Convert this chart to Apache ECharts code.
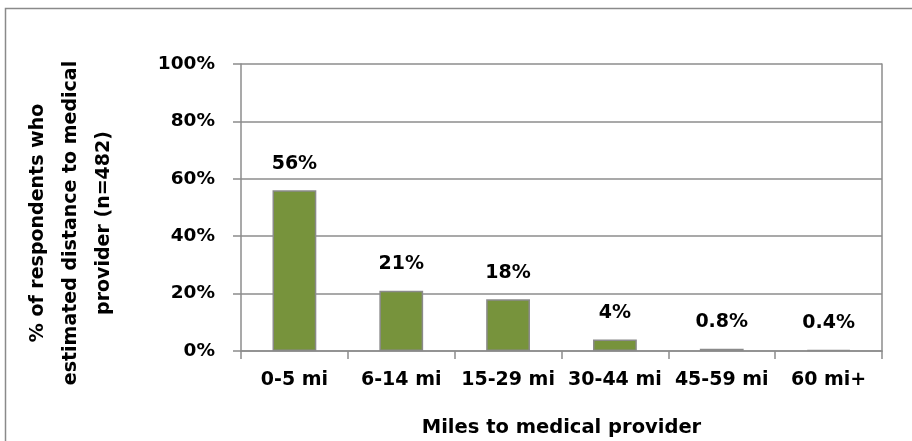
<!DOCTYPE html>
<html>
<head>
<meta charset="utf-8">
<script src="https://cdn.jsdelivr.net/npm/echarts@6/dist/echarts.min.js"></script>
<style>
  html, body { margin: 0; padding: 0; background: #fff; }
  #chart { width: 912px; height: 441px; }
</style>
</head>
<body>
<div id="chart"></div>
<script>
// Distance bands and share of respondents (%)
const categories = ['0-5 mi', '6-14 mi', '15-29 mi', '30-44 mi', '45-59 mi', '60 mi+'];
const shares = [56, 21, 18, 4, 0.8, 0.4];
const shareLabels = ['56%', '21%', '18%', '4%', '0.8%', '0.4%'];
const yTicks = [0, 20, 40, 60, 80, 100];
const yTitle = '% of respondents who\nestimated distance to medical\nprovider (n=482)';
const xTitle = 'Miles to medical provider';

const FONT = 'DejaVu Sans';
const GRID_GRAY = '#8c8c8c';

const chart = echarts.init(document.getElementById('chart'), null, { renderer: 'canvas' });

chart.setOption({
  animation: false,
  backgroundColor: '#ffffff',
  graphic: [
    {
      // chart frame (runs off the right and bottom edges)
      type: 'rect',
      shape: { x: 5.5, y: 8.5, width: 1000, height: 1000 },
      style: { fill: 'none', stroke: '#8a8a8a', lineWidth: 1.5 },
      silent: true
    },
    {
      type: 'text',
      x: 71,
      y: 223,
      rotation: Math.PI / 2,
      style: {
        text: yTitle,
        fontFamily: FONT,
        fontWeight: 'bold',
        fontSize: 19,
        lineHeight: 33,
        fill: '#000',
        align: 'center',
        verticalAlign: 'middle'
      },
      silent: true
    }
  ],
  grid: { left: 241, right: 30, top: 64, bottom: 90, outerBoundsMode: 'none', containLabel: false },
  xAxis: {
    type: 'category',
    data: categories,
    name: xTitle,
    nameLocation: 'middle',
    nameGap: 67,
    nameTextStyle: { fontFamily: FONT, fontWeight: 'bold', fontSize: 19.5, color: '#000' },
    axisLine: { show: true, lineStyle: { color: GRID_GRAY, width: 1.5 } },
    axisTick: { show: true, alignWithLabel: false, length: 8, lineStyle: { color: GRID_GRAY, width: 1.5 } },
    axisLabel: { interval: 0, fontFamily: FONT, fontWeight: 'bold', fontSize: 19, color: '#000', margin: 20 },
    splitLine: { show: false }
  },
  yAxis: [
    {
      type: 'value',
      min: 0,
      max: 100,
      interval: 20,
      axisLine: { show: true, lineStyle: { color: GRID_GRAY, width: 1.5 } },
      axisTick: { show: true, length: 8, lineStyle: { color: GRID_GRAY, width: 1.5 } },
      axisLabel: {
        fontFamily: FONT, fontWeight: 'bold', fontSize: 18.5, color: '#000', margin: 26,
        formatter: v => (yTicks.includes(v) ? v + '%' : '')
      },
      splitLine: { show: true, lineStyle: { color: GRID_GRAY, width: 1.5 } }
    },
    {
      // right edge of the plot area
      type: 'value',
      position: 'right',
      min: 0,
      max: 100,
      interval: 20,
      axisLine: { show: true, lineStyle: { color: GRID_GRAY, width: 1.5 } },
      axisTick: { show: false },
      axisLabel: { show: false },
      splitLine: { show: false }
    }
  ],
  series: [{
    type: 'bar',
    data: shares,
    barWidth: '41%',
    itemStyle: { color: '#77933C', borderColor: '#8a8a8a', borderWidth: 1.5 },
    label: {
      show: true,
      position: 'top',
      distance: 17,
      fontFamily: FONT,
      fontWeight: 'bold',
      fontSize: 19,
      color: '#000',
      formatter: p => shareLabels[p.dataIndex]
    }
  }]
});
</script>
</body>
</html>
